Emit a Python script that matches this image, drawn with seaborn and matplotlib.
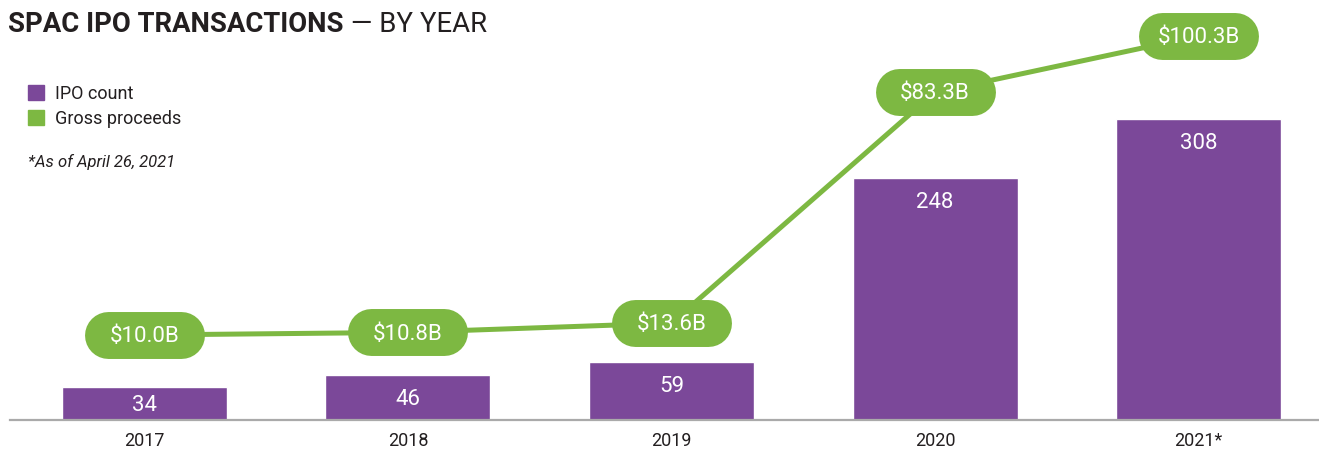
import matplotlib
matplotlib.use("Agg")
import matplotlib.pyplot as plt
from matplotlib.patches import Patch
import seaborn as sns
import pandas as pd

# values
years = ["2017", "2018", "2019", "2020", "2021*"]
ipo_count = [34, 46, 59, 248, 308]
proceeds = [10.0, 10.8, 13.6, 83.3, 100.3]
proceeds_labels = ["$10.0B", "$10.8B", "$13.6B", "$83.3B", "$100.3B"]

purple = "#7b4899"
green = "#7db842"
dark = "#231f20"

sns.set_theme(style="white")
plt.rcParams["font.family"] = ["Roboto", "DejaVu Sans"]

df = pd.DataFrame({"year": years, "count": ipo_count, "proceeds": proceeds})

W, H = 1319, 451
fig = plt.figure(figsize=(W / 100, H / 100), dpi=100)
ax = fig.add_axes([10 / W, 31 / H, 1309 / W, 410 / H])

# bars: IPO count
sns.barplot(data=df, x="year", y="count", color=purple, width=0.626,
            saturation=1, errorbar=None, ax=ax, zorder=2)
ax.set_ylim(0, 419.6)

for i, v in enumerate(ipo_count):
    ypos = max(v - 22.6, v / 2) - 2.5
    ax.text(i, ypos, str(v), ha="center", va="center", color="white",
            fontsize=16, zorder=3)

# line: gross proceeds on its own scale
ax2 = ax.twinx()
sns.lineplot(x=list(range(len(proceeds))), y=proceeds, color=green,
             linewidth=3.6, ax=ax2, zorder=2)
ax2.set_ylim(-15.67, 108.15)

# pill-shaped labels
half = 0.1385
for i, (v, lab) in enumerate(zip(proceeds, proceeds_labels)):
    ax2.plot([i - half, i + half], [v, v], color=green, linewidth=33.8,
             solid_capstyle="round", clip_on=False, zorder=3)
    ax2.text(i, v - 0.5, lab, ha="center", va="center", color="white",
             fontsize=16, zorder=4, clip_on=False)

ax.set_xlim(-0.510, 4.457)
ax2.set_xlim(-0.510, 4.457)

# axes cosmetics
for s in ["top", "left", "right"]:
    ax.spines[s].set_visible(False)
ax.spines["bottom"].set_color("#aaaaaa")
ax.spines["bottom"].set_linewidth(1.6)
ax.set_yticks([])
ax.set_xlabel("")
ax.set_ylabel("")
ax.tick_params(axis="x", length=0, pad=9, labelsize=13, labelcolor=dark)
ax2.set_axis_off()

# title
t = fig.text(8 / W, 1 - 24 / H, "SPAC IPO TRANSACTIONS", fontsize=19.8,
             fontweight="bold", color=dark, va="center", ha="left")
ax.annotate(" \u2014 BY YEAR", xy=(1, 0), xycoords=t, va="bottom", ha="left",
            fontsize=19.8, color=dark, annotation_clip=False)

# legend
handles = [Patch(color=purple, label="IPO count"),
           Patch(color=green, label="Gross proceeds")]
fig.legend(handles=handles, loc="upper left",
           bbox_to_anchor=(28 / W, 1 - 85 / H), frameon=False,
           fontsize=13, handlelength=0.88, handleheight=0.88,
           handletextpad=0.6, labelspacing=0.38, borderpad=0,
           borderaxespad=0, labelcolor=dark)

fig.text(28 / W, 1 - 162 / H, "*As of April 26, 2021", fontsize=12,
         style="italic", color=dark, va="center", ha="left")

fig.savefig("out.png", dpi=100)
